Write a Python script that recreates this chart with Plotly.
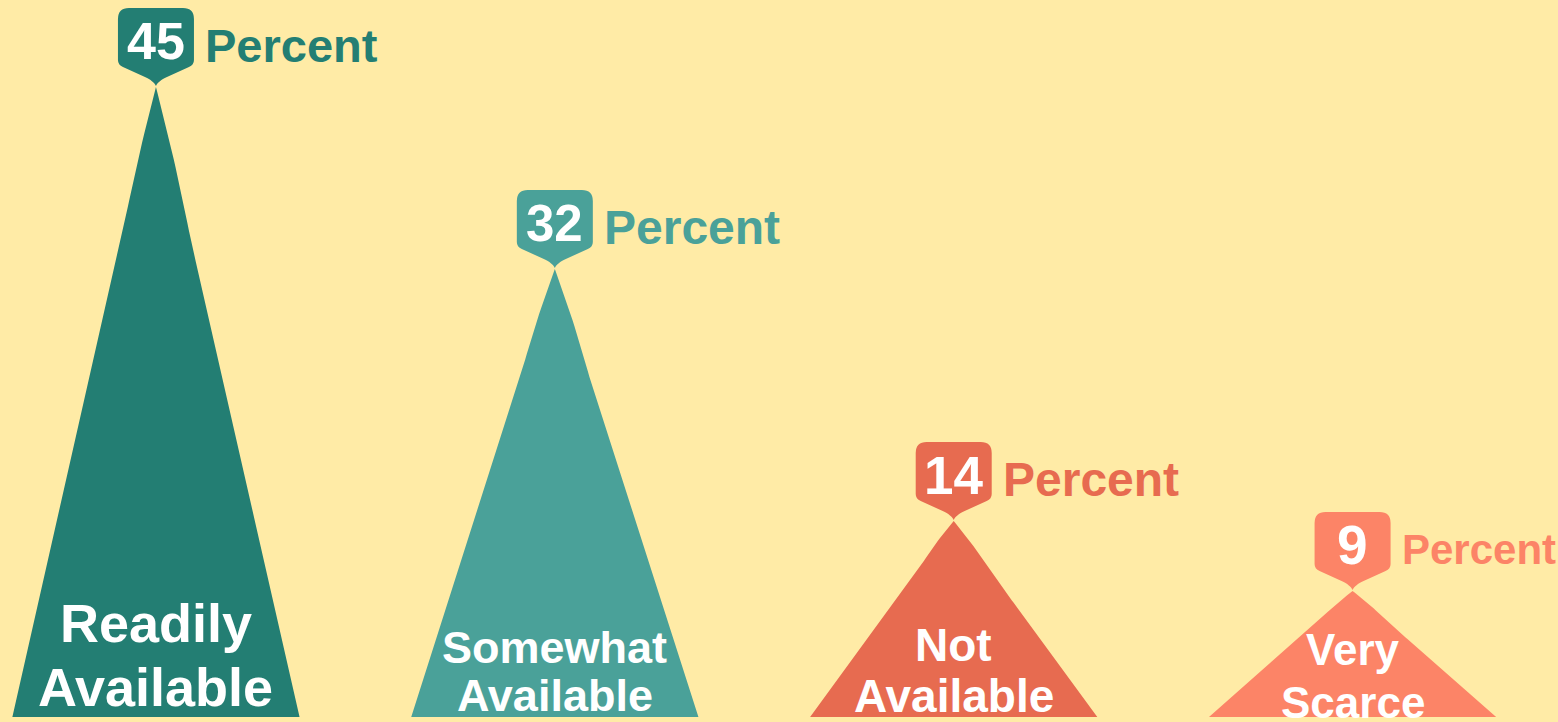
import numpy as np
import plotly.graph_objects as go

# ---- data ----
categories = ["Readily<br>Available", "Somewhat<br>Available", "Not<br>Available", "Very<br>Scarce"]
values = [45, 32, 14, 9]
value_labels = ["45", "32", "14", "9"]
unit_label = "Percent"

# ---- styles ----
colors = ["#237E73", "#4AA199", "#E76B50", "#FC8467"]
bg = "#FFEBA6"
cat_font_sizes = [54, 45, 46, 44]
cat_line_yshift = [[94, 30], [70, 22], [72, 21], [68, 15]]
pct_font_sizes = [47, 48, 48, 42]
num_font_sizes = [52, 51, 53, 55]
FONT = "Liberation Sans, Arial, sans-serif"
half_width = 0.36  # spike half base width in x units


def spike_profile(t):
    """half-width fraction of the spike at relative height t (0 base .. 1 apex)."""
    f = 1.0 - t
    bump = np.where(t > 0.76, 0.009 * np.sin(np.pi * (t - 0.76) / 0.24), 0.0)
    return f + bump


fig = go.Figure()
t = np.linspace(0, 1, 80)
for i, (v, c) in enumerate(zip(values, colors)):
    hw = half_width * spike_profile(t)
    xs = np.concatenate([i - hw, (i + hw)[::-1]])
    ys = np.concatenate([t * v, (t * v)[::-1]])
    fig.add_trace(go.Scatter(x=xs, y=ys, mode="lines", fill="toself",
                             fillcolor=c, line=dict(width=0, color=c),
                             hoverinfo="skip", showlegend=False))

# balloon shape path (pixel offsets relative to apex, y up)
balloon = ("M 0,1 C -2,5 -5,7 -11,10 L -33,20 Q -38,22 -38,27 L -38,68 "
           "Q -38,79 -27,79 L 27,79 Q 38,79 38,68 L 38,27 Q 38,22 33,20 "
           "L 11,10 C 5,7 2,5 0,1 Z")

shapes = []
annotations = []
for i, (v, c) in enumerate(zip(values, colors)):
    shapes.append(dict(type="path", xref="x", yref="y", xsizemode="pixel",
                       ysizemode="pixel", xanchor=i, yanchor=v, path=balloon,
                       fillcolor=c, line=dict(width=0), layer="above"))
    annotations.append(dict(x=i, y=v, xref="x", yref="y", text=f"<b>{value_labels[i]}</b>",
                            showarrow=False, xanchor="center", yanchor="middle",
                            yshift=46, font=dict(family=FONT, size=num_font_sizes[i], color="white")))
    annotations.append(dict(x=i, y=v, xref="x", yref="y", text=f"<b>{unit_label}</b>",
                            showarrow=False, xanchor="left", yanchor="middle",
                            xshift=47, yshift=42, font=dict(family=FONT, size=pct_font_sizes[i], color=c)))
    for line, ys in zip(categories[i].split("<br>"), cat_line_yshift[i]):
        annotations.append(dict(x=i, y=0, xref="x", yref="y", text=f"<b>{line}</b>",
                                showarrow=False, xanchor="center", yanchor="middle",
                                yshift=ys,
                                font=dict(family=FONT, size=cat_font_sizes[i], color="white")))

fig.update_layout(
    width=1558, height=722,
    margin=dict(l=0, r=0, t=0, b=0),
    paper_bgcolor=bg, plot_bgcolor=bg,
    xaxis=dict(range=[-0.391, 3.515], visible=False, fixedrange=True),
    yaxis=dict(range=[-0.357, 51.214], visible=False, fixedrange=True),
    shapes=shapes, annotations=annotations,
    showlegend=False, hovermode=False,
)

fig.write_html("out.html", config={"displayModeBar": False},
               post_script="document.body.style.margin='0';document.body.style.overflow='hidden';")
